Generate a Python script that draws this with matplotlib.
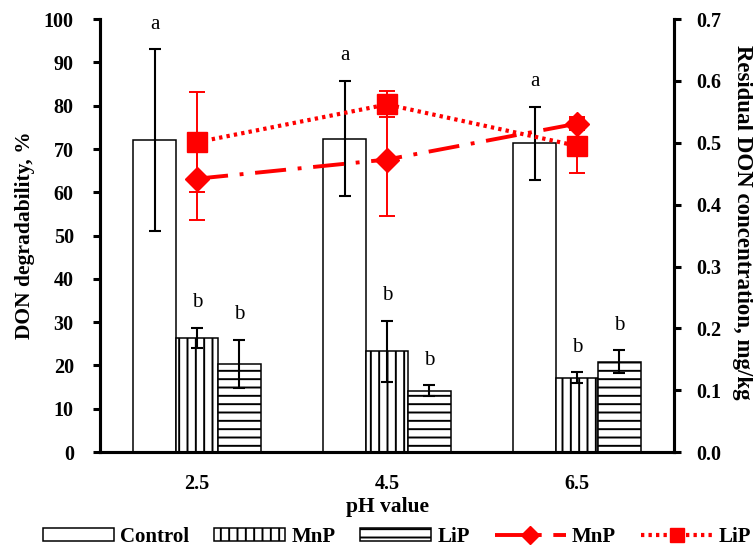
import numpy as np
import matplotlib
matplotlib.use('Agg')
import matplotlib.pyplot as plt
from matplotlib.patches import Patch
from matplotlib.lines import Line2D

plt.rcParams['font.family'] = ['Liberation Serif', 'DejaVu Serif']
plt.rcParams['hatch.linewidth'] = 1.4

ph = ['2.5', '4.5', '6.5']

# degradability, % (left axis)
control = [72.0, 72.4, 71.3]
control_err = [21.0, 13.3, 8.4]
mnp_deg = [26.4, 23.3, 17.2]
mnp_deg_err = [2.3, 7.0, 1.2]
lip_deg = [20.3, 14.2, 20.9]
lip_deg_err = [5.6, 1.2, 2.6]
control_lab = ['a', 'a', 'a']
mnp_lab = ['b', 'b', 'b']
lip_lab = ['b', 'b', 'b']

# residual DON, mg/kg (right axis)
mnp_res = [0.442, 0.473, 0.531]
mnp_res_err = [0.067, 0.092, 0.010]
lip_res = [0.501, 0.562, 0.495]
lip_res_err = [0.081, 0.021, 0.044]

fig = plt.figure(figsize=(7.53, 5.46), dpi=100)
ax = fig.add_axes([0.133, 0.172, 0.762, 0.793])
ax2 = ax.twinx()

x = np.arange(len(ph))
w = 0.223
ekw = dict(ecolor='black', elinewidth=1.5, capsize=4.5, capthick=1.5)
ax.bar(x - w, control, w, yerr=control_err, color='white', edgecolor='black', linewidth=1.1, error_kw=ekw)
ax.bar(x, mnp_deg, w, yerr=mnp_deg_err, color='white', edgecolor='black', linewidth=1.1, hatch='||', error_kw=ekw)
ax.bar(x + w, lip_deg, w, yerr=lip_deg_err, color='white', edgecolor='black', linewidth=1.1, hatch='--', error_kw=ekw)

for vals, errs, labs, off in [(control, control_err, control_lab, -w),
                              (mnp_deg, mnp_deg_err, mnp_lab, 0),
                              (lip_deg, lip_deg_err, lip_lab, w)]:
    for i in range(len(ph)):
        ax.text(x[i] + off, vals[i] + errs[i] + 4.8, labs[i], ha='center', va='baseline', fontsize=15)

red = '#ff0000'
mnp_ls = (0, (8, 3, 1, 3))
lip_ls = (0, (0.8, 1.0))
ax2.errorbar(x, mnp_res, yerr=mnp_res_err, color=red, lw=2.8, ls=mnp_ls, marker='D', ms=12,
             ecolor=red, elinewidth=1.4, capsize=6, capthick=1.4)
ax2.errorbar(x, lip_res, yerr=lip_res_err, color=red, lw=3, ls=lip_ls, marker='s', ms=14,
             ecolor=red, elinewidth=1.4, capsize=6, capthick=1.4)

ax.set_xlim(-0.51, 2.51)
ax.set_ylim(0, 100)
ax.set_yticks(np.arange(0, 101, 10))
ax2.set_ylim(0, 0.7)
ax2.set_yticks(np.arange(0, 0.71, 0.1))
ax2.set_yticklabels(['%.1f' % v for v in np.arange(0, 0.71, 0.1)])
ax.set_xticks(x)
ax.set_xticklabels(ph)

for a in (ax, ax2):
    a.spines['top'].set_visible(False)
    for s in ['left', 'right', 'bottom']:
        a.spines[s].set_linewidth(2.2)
    a.tick_params(axis='y', width=2.2, length=5, labelsize=14.5)
    for t in a.get_yticklabels():
        t.set_fontweight('bold')
ax.tick_params(axis='y', pad=14)
ax2.tick_params(axis='y', pad=11)
ax.tick_params(axis='x', length=0, labelsize=14.5, pad=16)
for t in ax.get_xticklabels():
    t.set_fontweight('bold')

ax.set_xlabel('pH value', fontsize=15.5, fontweight='bold', labelpad=2)
ax.set_ylabel('DON degradability, %', fontsize=15.5, fontweight='bold', labelpad=6)
ax2.set_ylabel('Residual DON concentration, mg/kg', fontsize=16.5, fontweight='bold', rotation=270,
               va='center', ha='center')
ax2.yaxis.set_label_coords(1.12, 0.53)

handles = [Patch(facecolor='white', edgecolor='black', linewidth=1.1),
           Patch(facecolor='white', edgecolor='black', linewidth=1.1, hatch='||'),
           Patch(facecolor='white', edgecolor='black', linewidth=1.1, hatch='--'),
           Line2D([], [], color=red, lw=2.8, ls=mnp_ls, marker='D', ms=9),
           Line2D([], [], color=red, lw=3, ls=lip_ls, marker='s', ms=10)]
labels = ['Control', 'MnP', 'LiP', 'MnP', 'LiP']
fig.legend(handles, labels, loc='center', bbox_to_anchor=(0.527, 0.0165), ncol=5, frameon=False,
           prop={'weight': 'bold', 'size': 15}, handlelength=3.4, handleheight=0.62, columnspacing=1.2,
           handletextpad=0.3, borderpad=0)

fig.savefig('out.png', dpi=100)
